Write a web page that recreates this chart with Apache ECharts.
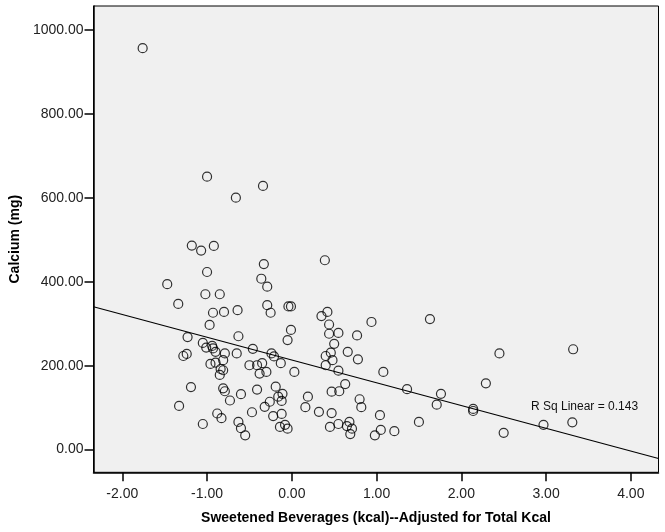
<!DOCTYPE html>
<html>
<head>
<meta charset="utf-8">
<script src="https://cdn.jsdelivr.net/npm/echarts@6/dist/echarts.min.js"></script>
<style>
html,body{margin:0;padding:0;background:#fff;}
#chart{width:665px;height:532px;}
</style>
</head>
<body>
<div id="chart"></div>
<script>
// Sweetened Beverages (kcal) -- adjusted for total kcal
const sweetBev = [
  -1.76, -1.00, -0.34, -0.66, -1.18, -1.07, -0.92, -0.33, -1.00, -1.47,
  -0.36, -0.29, -1.02, -0.85, -1.34, -0.29, -0.25, -0.93, -0.80, -0.64,
   0.39, -0.04, -0.01,  0.42,  0.35,  0.94,  1.63, -0.97, -1.23, -0.63,
  -1.05, -1.01, -0.94, -0.93, -0.90, -0.79, -0.65, -0.46, -0.24, -0.21,
  -0.13, -1.28, -1.24, -0.81, -0.96, -0.90, -0.50, -0.41, -0.35, -0.84,
  -0.81, -0.85, -0.38, -0.30, -1.19, -0.81, -0.79, -0.60, -0.41, -0.19,
  -0.73, -0.16, -0.11, -0.12, -1.33, -0.26, -0.32, -0.47, -0.88, -0.83,
  -0.22, -0.12, -1.05, -0.63, -0.60, -0.14, -0.55, -0.08, -0.05,  0.44,
  -0.01, -0.05,  0.44,  0.55,  0.77,  0.50,  0.03,  0.40,  0.46,  0.48,
   0.40,  0.66,  0.78,  0.55,  1.08,  0.63,  1.36,  1.76,  1.71,  0.47,
   0.56,  0.19,  0.16,  0.32,  0.47,  0.80,  0.82,  1.04,  1.50,  0.45,
   0.55,  0.68,  0.65,  0.71,  0.69,  0.98,  1.05,  1.21,
   2.45,  3.32,  2.29,  2.14,  2.14,  2.50,  2.97,  3.31
];
// Calcium (mg)
const calcium = [
  956, 650, 628, 600, 486, 474, 485, 442, 423, 394,
  407, 388, 370, 370, 347, 344, 326, 326, 328, 332,
  451, 341, 341, 328, 318, 304, 311, 297, 268, 270,
  254, 243, 247, 241, 233, 229, 229, 240, 229, 222,
  206, 223, 228, 213, 204, 207, 201, 201, 206, 192,
  189, 178, 181, 185, 149, 146, 139, 132, 143, 150,
  117, 126, 133, 116, 104, 114, 102,  89,  86,  75,
   80,  85,  61,  66,  51,  54,  34,  59,  50, 298,
  285, 261, 276, 278, 272, 252, 185, 223, 231, 213,
  201, 233, 215, 188, 185, 156, 144, 133, 107, 138,
  139, 126, 101,  90,  87, 120, 101,  82,  66,  54,
   61,  66,  56,  50,  37,  34,  47,  44,
  229, 239, 158,  97,  92,  40,  59,  65
];
const xTicks = [-2, -1, 0, 1, 2, 3, 4];
const yTicks = [0, 200, 400, 600, 800, 1000];
const xRange = [-2.34, 4.327];
const yRange = [-54, 1056.5];
// Linear fit (R Sq Linear = 0.143)
const fitIntercept = 213.4;
const fitSlope = -54.2;
const rSqText = 'R Sq Linear = 0.143';
const xTitle = 'Sweetened Beverages (kcal)--Adjusted for Total Kcal';
const yTitle = 'Calcium (mg)';

const points = sweetBev.map((x, i) => [x, calcium[i]]);
const fitLine = xRange.map(x => [x, fitIntercept + fitSlope * x]);

const FONT = 'Arial, "Liberation Sans", sans-serif';
const chart = echarts.init(document.getElementById('chart'), null, {renderer: 'canvas'});
chart.setOption({
  animation: false,
  backgroundColor: '#ffffff',
  grid: {
    left: 91, top: 6, right: 6.5, bottom: 59.7,
    show: true, backgroundColor: '#f0f0f0', borderColor: '#000', borderWidth: 1
  },
  xAxis: {
    type: 'value', min: xRange[0], max: xRange[1],
    name: xTitle, nameLocation: 'middle', nameGap: 39,
    nameTextStyle: {fontFamily: FONT, fontSize: 14, fontWeight: 'bold', color: '#000'},
    axisLine: {show: true, onZero: false, lineStyle: {color: '#000', width: 1.5}},
    axisTick: {show: true, length: 9, customValues: xTicks, lineStyle: {color: '#000', width: 1.5}},
    axisLabel: {margin: 15, customValues: xTicks, fontFamily: FONT, fontSize: 14, color: '#222',
      formatter: v => v.toFixed(2)},
    splitLine: {show: false}
  },
  yAxis: {
    type: 'value', min: yRange[0], max: yRange[1],
    name: yTitle, nameLocation: 'middle', nameGap: 69,
    nameTextStyle: {fontFamily: FONT, fontSize: 14, fontWeight: 'bold', color: '#000'},
    axisLine: {show: true, onZero: false, lineStyle: {color: '#000', width: 1.5}},
    axisTick: {show: true, length: 9, customValues: yTicks, lineStyle: {color: '#000', width: 1.5}},
    axisLabel: {margin: 10, customValues: yTicks, fontFamily: FONT, fontSize: 14, color: '#222',
      formatter: v => v.toFixed(2)},
    splitLine: {show: false}
  },
  series: [
    {
      type: 'line', data: fitLine, symbol: 'none', silent: true,
      lineStyle: {color: '#000', width: 1.2}, clip: true, z: 2
    },
    {
      type: 'scatter', data: points, symbol: 'circle', symbolSize: 9,
      itemStyle: {color: 'rgba(0,0,0,0)', borderColor: '#000', borderWidth: 1.2}, z: 3
    }
  ],
  graphic: [
    {type: 'text', x: 531, y: 407, z: 10,
      style: {text: rSqText, font: '12px Arial, "Liberation Sans", sans-serif', fill: '#111', verticalAlign: 'middle'}}
  ]
});
</script>
</body>
</html>
